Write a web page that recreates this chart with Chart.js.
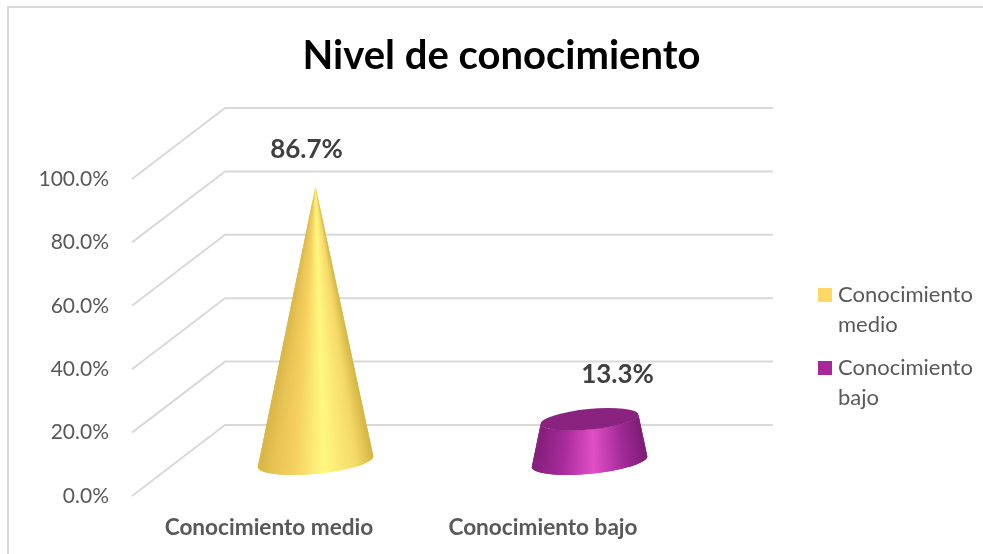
<!DOCTYPE html>
<html>
<head>
<meta charset="utf-8">
<title>Nivel de conocimiento</title>
<script src="https://cdn.jsdelivr.net/npm/chart.js@4"></script>
<style>
  html, body { margin: 0; background: #fff; }
  #wrap { position: relative; width: 983px; height: 554px; }
  #frame { position: absolute; left: 7px; top: 6px; right: 0; bottom: 0; border-left: 2px solid #d9d9d9; border-top: 2px solid #d9d9d9; }
</style>
</head>
<body>
<div id="wrap">
  <div id="frame"></div>
  <canvas id="chart" width="983" height="554" style="position:relative"></canvas>
</div>
<script>
const categories = ['Conocimiento medio', 'Conocimiento bajo'];
const values = [86.7, 13.3];
const legendLines = [['Conocimiento', 'medio'], ['Conocimiento', 'bajo']];
const legendColors = ['#ffd966', '#a6289a'];

// side colour ramps, left edge to right edge
const yellowRamp = [[0, '#d8b648'], [0.12, '#e8c455'], [0.3, '#f5d160'], [0.56, '#fff880'], [0.85, '#f5d968'], [1, '#d4b545']];
const purpleRamp = [[0, '#84207a'], [0.25, '#a82c9c'], [0.52, '#e24fc6'], [0.8, '#a02a96'], [1, '#7e1e75']];
const lidColors = ['#b89a3a', '#8a2280'];

const FONT = 'Lato, "Open Sans", sans-serif';
const DEPTH_X = 93, DEPTH_Y = 71;     // back wall offset
const CONE_LIFT = 34.5;               // solids stand halfway into the depth
const RADIUS = 58, FLATTEN = 0.21, TILT = -5.5 * Math.PI / 180;
// label nudges from the top of each solid
const labelOffsets = [[-9, -37], [28, -45]];

function hexToRgb(h) {
  return [1, 3, 5].map(i => parseInt(h.slice(i, i + 2), 16));
}

function rampColor(ramp, t) {
  for (let i = 1; i < ramp.length; i++) {
    if (t <= ramp[i][0]) {
      const a = hexToRgb(ramp[i - 1][1]), b = hexToRgb(ramp[i][1]);
      const k = (t - ramp[i - 1][0]) / (ramp[i][0] - ramp[i - 1][0]);
      return 'rgb(' + a.map((v, j) => Math.round(v + (b[j] - v) * k)).join(',') + ')';
    }
  }
  return ramp[ramp.length - 1][1];
}

function ellipsePoint(cx, cy, a, angle) {
  const ex = a * Math.cos(angle), ey = a * FLATTEN * Math.sin(angle);
  return [cx + ex * Math.cos(TILT) - ey * Math.sin(TILT), cy + ex * Math.sin(TILT) + ey * Math.cos(TILT)];
}

// truncated cone, the tip closes only for the largest value
function drawSolid(ctx, x, baseY, topY, topRadius, ramp, lid) {
  const steps = 160;
  // painted left to right, every strip runs under the next one so no seams show
  for (let i = 0; i < steps; i++) {
    const a0 = Math.PI - Math.PI * i / steps;
    const a1 = Math.max(0, Math.PI - Math.PI * (i + 3) / steps);
    const p0 = ellipsePoint(x, baseY, RADIUS, a0), p1 = ellipsePoint(x, baseY, RADIUS, a1);
    const q0 = ellipsePoint(x, topY, topRadius, a0), q1 = ellipsePoint(x, topY, topRadius, a1);
    ctx.beginPath();
    ctx.moveTo(p0[0], p0[1]);
    ctx.lineTo(p1[0], p1[1]);
    ctx.lineTo(q1[0], q1[1]);
    ctx.lineTo(q0[0], q0[1]);
    ctx.closePath();
    ctx.fillStyle = rampColor(ramp, (1 + Math.cos(a0)) / 2);
    ctx.fill();
  }
  if (topRadius > 0.5) {
    ctx.beginPath();
    ctx.ellipse(x, topY, topRadius, topRadius * FLATTEN, TILT, 0, Math.PI * 2);
    ctx.fillStyle = lid;
    ctx.fill();
  }
}

const wallsAndCones = {
  id: 'wallsAndCones',
  afterLayout(chart) {
    // title is centred over the whole canvas, not the plot
    chart.titleBlock.left = 20;
    chart.titleBlock.right = 983;
  },
  beforeDatasetsDraw(chart) {
    const { ctx, chartArea, scales } = chart;
    ctx.save();
    ctx.strokeStyle = '#d9d9d9';
    ctx.lineWidth = 2;
    scales.y.ticks.forEach(t => {
      const y = scales.y.getPixelForValue(t.value);
      ctx.beginPath();
      ctx.moveTo(chartArea.left, y);
      ctx.lineTo(chartArea.left + DEPTH_X, y - DEPTH_Y);
      ctx.lineTo(chartArea.right + DEPTH_X, y - DEPTH_Y);
      ctx.stroke();
    });
    ctx.restore();
  },
  afterDatasetsDraw(chart) {
    const { ctx } = chart;
    const bars = chart.getDatasetMeta(0).data;
    const top = Math.max(...values);
    ctx.save();
    bars.forEach((bar, i) => {
      const x = bar.x + DEPTH_X / 2;
      const baseY = bar.base - CONE_LIFT;
      const topY = bar.y - CONE_LIFT;
      const topRadius = RADIUS * (1 - values[i] / top);
      drawSolid(ctx, x, baseY, topY, topRadius, i === 0 ? yellowRamp : purpleRamp, lidColors[i]);
      ctx.fillStyle = '#404040';
      ctx.font = 'bold 26px ' + FONT;
      ctx.textAlign = 'center';
      ctx.textBaseline = 'middle';
      ctx.fillText(values[i].toFixed(1) + '%', x + labelOffsets[i][0], topY + labelOffsets[i][1]);
    });
    // legend block on the right
    ctx.font = '22px ' + FONT;
    ctx.textAlign = 'left';
    let y = 295;
    legendLines.forEach((lines, i) => {
      ctx.fillStyle = legendColors[i];
      ctx.fillRect(818, y - 7, 14, 14);
      ctx.fillStyle = '#595959';
      lines.forEach((line, j) => ctx.fillText(line, 838, y + j * 29.5));
      y += 73;
    });
    ctx.restore();
  }
};

new Chart(document.getElementById('chart'), {
  type: 'bar',
  data: {
    labels: categories,
    datasets: [{ data: values, backgroundColor: 'transparent', borderWidth: 0 }]
  },
  options: {
    responsive: false,
    animation: false,
    layout: { padding: { left: 20, right: 303 } },
    plugins: {
      legend: { display: false },
      tooltip: { enabled: false },
      title: {
        display: true,
        text: 'Nivel de conocimiento',
        color: '#000',
        font: { family: FONT, size: 40, weight: 'bold', lineHeight: 1.2 },
        padding: { top: 32, bottom: 99 }
      }
    },
    scales: {
      x: {
        grid: { display: false },
        border: { display: false },
        afterFit(scale) { scale.height = 58; },
        ticks: { color: '#595959', padding: 10, font: { family: FONT, size: 22.6, weight: 'bold' }, maxRotation: 0 }
      },
      y: {
        min: 0,
        max: 100,
        grid: { display: false, drawTicks: false },
        border: { display: false },
        afterFit(scale) { scale.width = 112; },
        ticks: {
          stepSize: 20,
          color: '#595959',
          padding: 23,
          font: { family: FONT, size: 21 },
          callback: v => v.toFixed(1) + '%'
        }
      }
    }
  },
  plugins: [wallsAndCones]
});
</script>
</body>
</html>
